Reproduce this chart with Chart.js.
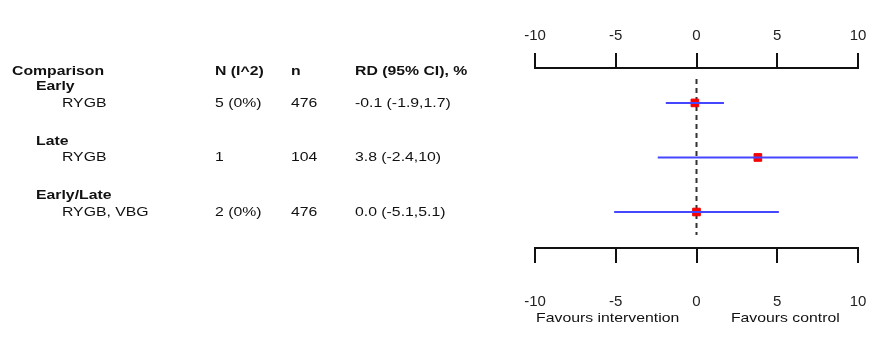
<!DOCTYPE html>
<html>
<head>
<meta charset="utf-8">
<script src="https://cdn.jsdelivr.net/npm/chart.js@4.4.1/dist/chart.umd.min.js"></script>
<style>
  html, body { margin: 0; padding: 0; background: #ffffff; }
  #wrap { position: relative; width: 876px; height: 347px; }
</style>
</head>
<body>
<div id="wrap"><canvas id="c"></canvas></div>
<script>
// ---- data ----
const categories = ['Early', 'Late', 'Early/Late'];
const subgroups = ['RYGB', 'RYGB', 'RYGB, VBG'];
const nStudies = ['5 (0%)', '1', '2 (0%)'];
const nPatients = ['476', '104', '476'];
const rdLabels = ['-0.1 (-1.9,1.7)', '3.8 (-2.4,10)', '0.0 (-5.1,5.1)'];
const estimates = [-0.1, 3.8, 0.0];
const lower = [-1.9, -2.4, -5.1];
const upper = [1.7, 10, 5.1];
const xTickValues = [-10, -5, 0, 5, 10];
const headers = ['Comparison', 'N (I^2)', 'n', 'RD (95% CI), %'];
const favours = ['Favours intervention', 'Favours control'];

// ---- build datasets ----
const rows = categories.map((_, i) => i + 1);
const ciSets = rows.map((r, i) => ({
  type: 'line',
  data: [{ x: lower[i], y: r }, { x: upper[i], y: r }],
  borderColor: '#4646ff',
  borderWidth: 2,
  pointRadius: 0,
  clip: false,
  order: 1
}));
const pointSet = {
  type: 'scatter',
  data: rows.map((r, i) => ({ x: estimates[i], y: r })),
  pointStyle: 'rect',
  pointRadius: 5.4,
  backgroundColor: '#ff0000',
  borderColor: '#ee0000',
  borderWidth: 1,
  clip: false,
  order: 2
};
const refLine = {
  type: 'line',
  data: [{ x: 0, y: 0.56 }, { x: 0, y: 3.42 }],
  borderColor: '#333333',
  borderWidth: 2,
  borderDash: [5, 4],
  pointRadius: 0,
  clip: false,
  order: 3
};

const FONT = '"Liberation Sans", Arial, sans-serif';
const SX = 1.17;

function stretchText(ctx, txt, x, y, bold, align) {
  ctx.save();
  ctx.font = (bold ? 'bold ' : '') + '13.5px ' + FONT;
  ctx.textBaseline = 'middle';
  ctx.textAlign = align || 'left';
  ctx.fillStyle = '#111111';
  ctx.translate(x, y);
  ctx.scale(SX, 1);
  ctx.fillText(txt, 0, 0);
  ctx.restore();
}

const tablePlugin = {
  id: 'table',
  afterDraw(chart) {
    const ctx = chart.ctx;
    const ys = chart.scales.y;
    const xs = chart.scales.x;
    const colX = [12, 215, 291, 355];
    const yHead = ys.getPixelForValue(rows[0]) - 32;
    headers.forEach((h, k) => stretchText(ctx, h, colX[k], yHead, true));
    rows.forEach((r, i) => {
      const py = ys.getPixelForValue(r);
      stretchText(ctx, categories[i], 36, py - 16.5, true);
      stretchText(ctx, subgroups[i], 62, py, false);
      stretchText(ctx, nStudies[i], colX[1], py, false);
      stretchText(ctx, nPatients[i], colX[2], py, false);
      stretchText(ctx, rdLabels[i], colX[3], py, false);
    });
    const fy = chart.chartArea.bottom + 70;
    stretchText(ctx, favours[0], xs.getPixelForValue(-5.5), fy, false, 'center');
    stretchText(ctx, favours[1], xs.getPixelForValue(5.5), fy, false, 'center');
  }
};

const axisCommon = {
  type: 'linear',
  min: xTickValues[0],
  max: xTickValues[xTickValues.length - 1],
  afterBuildTicks(scale) { scale.ticks = xTickValues.map(v => ({ value: v })); },
  grid: {
    drawOnChartArea: false,
    drawTicks: true,
    tickLength: 15,
    color: '#111111',
    lineWidth: 2
  },
  border: { display: true, color: '#111111', width: 2 },
};

new Chart(document.getElementById('c'), {
  data: { datasets: [...ciSets, pointSet, refLine] },
  plugins: [tablePlugin],
  options: {
    responsive: true,
    maintainAspectRatio: false,
    animation: false,
    layout: { padding: { left: 535, right: 18, top: 0, bottom: 0 } },
    plugins: { legend: { display: false }, tooltip: { enabled: false } },
    scales: {
      x: Object.assign({}, axisCommon, {
        position: 'bottom',
        ticks: { color: '#222222', font: { family: FONT, size: 15 }, padding: 30, maxRotation: 0 },
        afterFit(scale) { scale.height = 99; scale.paddingLeft = 0; scale.paddingRight = 0; }
      }),
      x2: Object.assign({}, axisCommon, {
        position: 'top',
        ticks: { color: '#222222', font: { family: FONT, size: 15 }, padding: 8, maxRotation: 0 },
        afterFit(scale) { scale.height = 68; scale.paddingLeft = 0; scale.paddingRight = 0; }
      }),
      y: {
        type: 'linear',
        display: false,
        reverse: true,
        min: 0.36,
        max: 3.66
      }
    }
  }
});
</script>
</body>
</html>
